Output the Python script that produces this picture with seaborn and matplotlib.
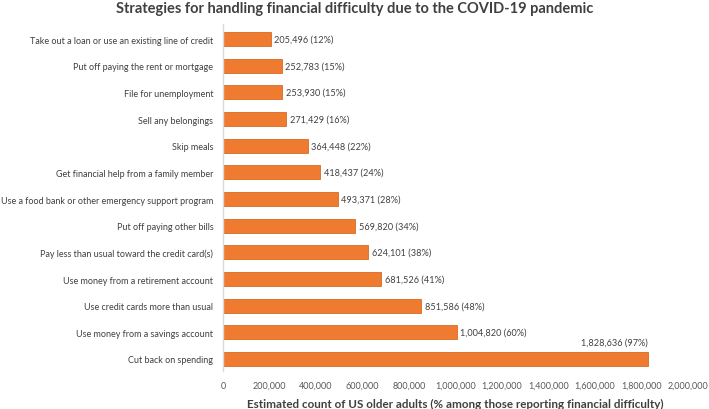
import pandas as pd
import seaborn as sns
import matplotlib.pyplot as plt

strategies = [
    "Take out a loan or use an existing line of credit",
    "Put off paying the rent or mortgage",
    "File for unemployment",
    "Sell any belongings",
    "Skip meals",
    "Get financial help from a family member",
    "Use a food bank or other emergency support program",
    "Put off paying other bills",
    "Pay less than usual toward the credit card(s)",
    "Use money from a retirement account",
    "Use credit cards more than usual",
    "Use money from a savings account",
    "Cut back on spending",
]
counts = [205496, 252783, 253930, 271429, 364448, 418437, 493371,
          569820, 624101, 681526, 851586, 1004820, 1828636]
percents = [12, 15, 15, 16, 22, 24, 28, 34, 38, 41, 48, 60, 97]
xticks = list(range(0, 2000001, 200000))

df = pd.DataFrame({"strategy": strategies, "count": counts, "pct": percents})

sns.set_style("white")
plt.rcParams['font.family'] = ['Lato', 'DejaVu Sans']

fig = plt.figure(figsize=(7.09, 4.10), dpi=100)
ax = fig.add_axes([0.3145, 0.0927, 0.656, 0.846])

sns.barplot(data=df, x="count", y="strategy", color="#EF7B30", saturation=1, width=0.53,
            edgecolor="#D96A22", linewidth=0.6, ax=ax)

for i, (c, p) in enumerate(zip(counts, percents)):
    label = f"{c:,} ({p}%)"
    if i == len(counts) - 1:
        ax.text(c, i - 0.45, label, ha="right", va="bottom", fontsize=6.6, color="#404040")
    else:
        ax.text(c + 16000, i, label, ha="left", va="center", fontsize=6.6, color="#404040")

ax.set_xlim(0, 2000000)
ax.set_ylim(12.45, -0.56)
ax.set_xticks(xticks)
ax.set_xticklabels([f"{t:,}" for t in xticks], fontsize=6.5, color="#595959")
ax.tick_params(axis="y", labelsize=6.5, labelcolor="#404040", length=0, pad=7)
ax.tick_params(axis="x", length=0, pad=7)

for s in ["top", "right", "bottom"]:
    ax.spines[s].set_visible(False)
ax.spines["left"].set_color("#D9D9D9")
ax.spines["left"].set_linewidth(1)

ax.set_ylabel("")
ax.set_xlabel("Estimated count of US older adults (% among those reporting financial difficulty)",
              fontsize=8.4, fontweight="bold", color="#404040", labelpad=6)
fig.suptitle("Strategies for handling financial difficulty due to the COVID-19 pandemic",
             fontsize=10.5, fontweight="bold", color="#404040", y=0.995)

fig.savefig("out.png", dpi=100)
